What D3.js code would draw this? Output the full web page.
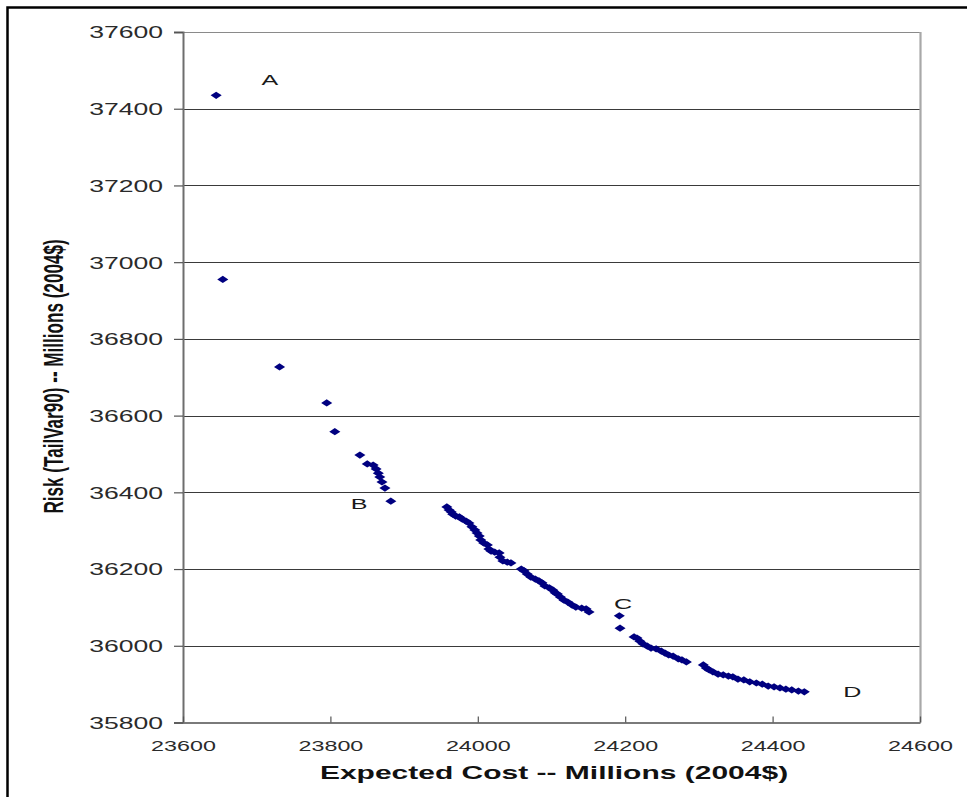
<!DOCTYPE html>
<html>
<head>
<meta charset="utf-8">
<script src="https://cdn.jsdelivr.net/npm/d3@7"></script>
<style>
  html, body { margin: 0; padding: 0; background: #fff; }
  svg { display: block; }
  text { font-family: "Liberation Sans", Arial, sans-serif; }
</style>
</head>
<body>
<svg id="chart" width="967" height="797"></svg>
<script>
// Efficient frontier: expected cost vs. tail risk (millions, 2004$)
const expectedCost = [
  23645, 23654, 23731, 23795, 23806,
  23840, 23850, 23858, 23862, 23865, 23867, 23870, 23874, 23882,
  23958, 23961, 23964, 23966, 23970, 23975, 23979, 23984, 23988, 23992,
  23996, 23999, 24002, 24004, 24008, 24013, 24015, 24018, 24023, 24029,
  24030, 24034, 24040, 24045,
  24059, 24063, 24067, 24072, 24078, 24083, 24087, 24091, 24097, 24102,
  24105, 24108, 24112, 24117, 24122, 24128, 24133, 24141, 24147, 24151,
  24192, 24193,
  24212, 24216, 24220, 24224, 24230, 24235, 24242, 24249, 24254, 24259,
  24265, 24272, 24277, 24283,
  24306, 24310, 24314, 24319, 24326, 24333, 24340, 24346, 24353, 24361,
  24369, 24378, 24386, 24394, 24402, 24410, 24418, 24426, 24435, 24443
];
const riskTailVar90 = [
  37435, 36955, 36727, 36633, 36558,
  36497, 36474, 36471, 36461, 36450, 36440, 36427, 36411, 36377,
  36362, 36354, 36349, 36343, 36338, 36336, 36330, 36325, 36320, 36310,
  36302, 36294, 36286, 36276, 36268, 36263, 36252, 36247, 36244, 36242,
  36231, 36221, 36218, 36216,
  36200, 36195, 36187, 36179, 36174, 36169, 36164, 36156, 36151, 36145,
  36138, 36135, 36127, 36119, 36114, 36106, 36101, 36098, 36096, 36088,
  36078, 36046,
  36023, 36020, 36012, 36005, 35999, 35994, 35992, 35986, 35981, 35976,
  35973, 35966, 35963, 35958,
  35950, 35942, 35937, 35932, 35926, 35924, 35921, 35919, 35913, 35911,
  35906, 35903, 35900, 35895, 35893, 35890, 35887, 35885, 35882, 35880
];

const xTicks = [23600, 23800, 24000, 24200, 24400, 24600];
const yTicks = [35800, 36000, 36200, 36400, 36600, 36800, 37000, 37200, 37400, 37600];

// Point annotations placed in data space
const annotationText = ["A", "B", "C", "D"];
const annotationCost = [23718, 23839, 24197, 24508];
const annotationRisk = [37475, 36370, 36111, 35880];

const xTitle = "Expected Cost -- Millions (2004$)";
const yTitle = "Risk (TailVar90) -- Millions (2004$)";

// Horizontal stretch applied to glyphs and markers
const K = 1.63;

const svg = d3.select("#chart");
const plotLeft = 183, plotRight = 920, plotTop = 32, plotBottom = 722.5;

const x = d3.scaleLinear().domain([23600, 24600]).range([plotLeft, plotRight]);
const y = d3.scaleLinear().domain([35800, 37600]).range([plotBottom, plotTop]);

// outer frame
svg.append("rect")
  .attr("x", 7.5).attr("y", 7.5).attr("width", 1100).attr("height", 1100)
  .attr("fill", "#fff").attr("stroke", "#000").attr("stroke-width", 2.5);

// horizontal gridlines
svg.append("g").selectAll("line")
  .data(yTicks.slice(1))
  .join("line")
  .attr("x1", plotLeft).attr("x2", plotRight)
  .attr("y1", d => Math.round(y(d)) + 0.5).attr("y2", d => Math.round(y(d)) + 0.5)
  .attr("stroke", (d, i, a) => i === a.length - 1 ? "#8a8a8a" : "#3a3a3a")
  .attr("stroke-width", 1.2);

// right plot border
svg.append("line")
  .attr("x1", plotRight + 0.5).attr("x2", plotRight + 0.5)
  .attr("y1", plotTop).attr("y2", plotBottom)
  .attr("stroke", "#a8a8a8").attr("stroke-width", 2.2);

// y axis
const yAxis = svg.append("g")
  .attr("transform", `translate(${plotLeft},0)`)
  .call(d3.axisLeft(y).tickValues(yTicks).tickSize(9).tickFormat(d3.format("d")));
yAxis.select(".domain").attr("stroke", "#6e6e6e").attr("stroke-width", 2);
yAxis.selectAll(".tick line").attr("stroke", "#555").attr("stroke-width", 1.2);
yAxis.selectAll(".tick text")
  .attr("x", -20 / K)
  .attr("dy", "0.36em")
  .attr("transform", `scale(${K},1)`)
  .attr("fill", "#2a2a2a")
  .style("font-size", "16.3px");

// x axis
const xAxis = svg.append("g")
  .attr("transform", `translate(0,${plotBottom})`)
  .call(d3.axisBottom(x).tickValues(xTicks).tickSizeInner(-6).tickSizeOuter(0).tickPadding(0).tickFormat(d3.format("d")));
xAxis.select(".domain").attr("stroke", "#7a7a7a").attr("stroke-width", 2.2);
xAxis.selectAll(".tick line").attr("stroke", "#555").attr("stroke-width", 1.2);
xAxis.selectAll(".tick text")
  .attr("y", 28.5).attr("dy", 0)
  .attr("transform", `scale(${K},1)`)
  .attr("fill", "#2a2a2a")
  .style("font-size", "14.3px");

// axis titles
svg.append("text")
  .attr("transform", `translate(554,779) scale(${K},1)`)
  .attr("text-anchor", "middle")
  .style("font-size", "18.4px").style("font-weight", "bold")
  .attr("fill", "#111")
  .text(xTitle);

svg.append("text")
  .attr("transform", `translate(63.3,376.5) rotate(-90) scale(1,${K})`)
  .attr("text-anchor", "middle")
  .style("font-size", "17.1px").style("font-weight", "bold")
  .attr("fill", "#111")
  .text(yTitle);

// diamond markers
const points = expectedCost.map((c, i) => ({ cost: c, risk: riskTailVar90[i] }));
const diamond = "M0,-3.6L3.4,0L0,3.6L-3.4,0Z";
svg.append("g").selectAll("path")
  .data(points)
  .join("path")
  .attr("d", diamond)
  .attr("transform", d => `translate(${x(d.cost)},${y(d.risk)}) scale(${K},1)`)
  .attr("fill", "#000080");

// annotations
svg.append("g").selectAll("text")
  .data(annotationText.map((t, i) => ({ t, cost: annotationCost[i], risk: annotationRisk[i] })))
  .join("text")
  .attr("transform", d => `translate(${x(d.cost)},${y(d.risk)}) scale(${K},1)`)
  .attr("text-anchor", "middle")
  .attr("dy", "0.36em")
  .style("font-size", "15.4px")
  .attr("fill", "#1a1a1a")
  .text(d => d.t);
</script>
</body>
</html>
